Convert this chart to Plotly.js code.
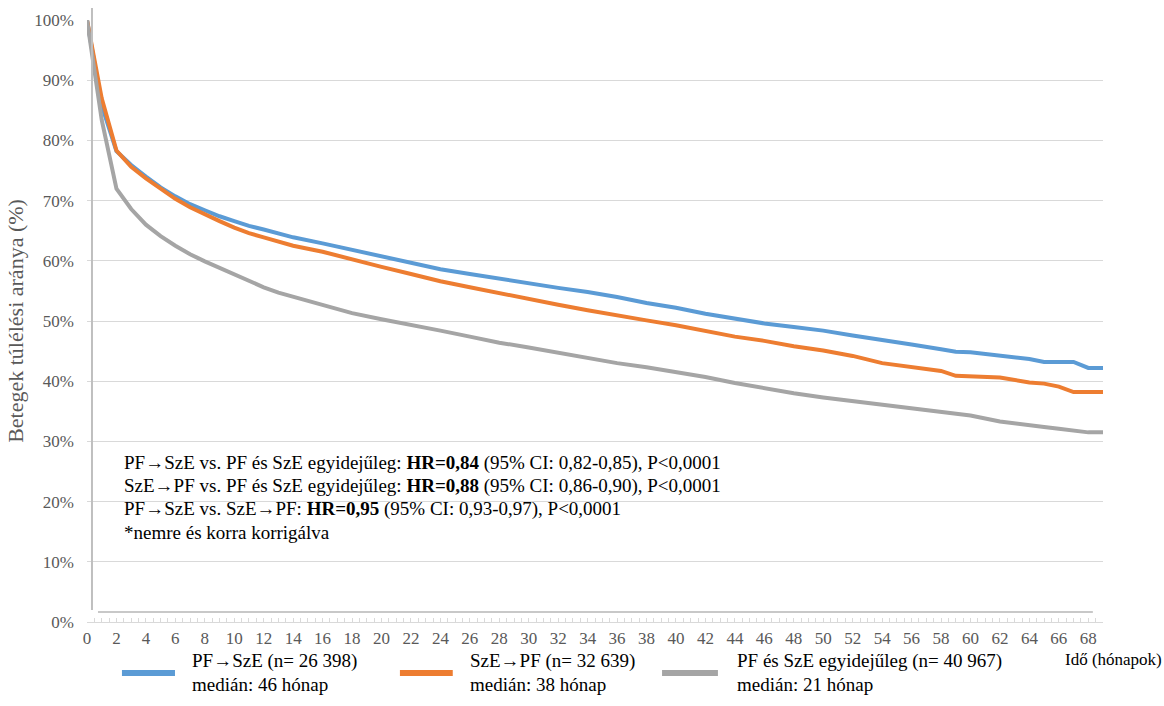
<!DOCTYPE html>
<html>
<head>
<meta charset="utf-8">
<script src="https://cdn.plot.ly/plotly-3.0.1.min.js"></script>
<style>
  html, body { margin: 0; padding: 0; background: #ffffff; }
  #chart { width: 1164px; height: 706px; }
</style>
</head>
<body>
<div id="chart"></div>
<script>
// Months (hónapok)
const months = [0,1,2,3,4,5,6,7,8,9,10,11,12,13,14,16,18,20,22,24,26,28,30,32,34,36,38,40,42,44,46,48,50,52,54,56,58,59,60,62,64,65,66,67,68,69];

// PF→SzE survival (%)
const pfSze = [100,85.8,78.2,75.9,74.0,72.2,70.7,69.4,68.4,67.4,66.6,65.8,65.2,64.6,63.9,62.9,61.8,60.7,59.6,58.6,57.8,57.0,56.3,55.5,54.8,54.0,53.0,52.2,51.2,50.4,49.6,49.0,48.4,47.6,46.9,46.1,45.3,44.9,44.8,44.3,43.7,43.2,43.2,43.2,42.2,42.2];

// SzE→PF survival (%)
const szePf = [100,87.0,78.3,75.6,73.7,71.9,70.3,68.9,67.7,66.6,65.5,64.6,63.9,63.2,62.5,61.5,60.2,59.0,57.8,56.6,55.6,54.6,53.7,52.7,51.8,50.9,50.1,49.3,48.3,47.4,46.7,45.8,45.1,44.2,43.0,42.3,41.7,40.9,40.8,40.6,39.8,39.6,39.1,38.2,38.2,38.2];

// PF és SzE egyidejűleg survival (%)
const egyidejuleg = [100,83.4,72.0,68.6,66.0,64.1,62.5,61.1,59.9,58.8,57.7,56.6,55.6,54.7,54.0,52.7,51.3,50.3,49.4,48.4,47.4,46.4,45.6,44.7,43.9,43.0,42.3,41.5,40.7,39.7,38.8,38.0,37.3,36.7,36.1,35.4,34.8,34.5,34.3,33.3,32.6,32.4,32.1,31.8,31.5,31.5];

const seriesNames = ["PF→SzE", "SzE→PF", "PF és SzE egyidejűleg"];
const seriesN = ["26 398", "32 639", "40 967"];
const seriesMedian = ["46", "38", "21"];
const seriesColors = ["#5B9BD5", "#ED7D31", "#A5A5A5"];
const seriesValues = [pfSze, szePf, egyidejuleg];

const hrLines = [
  "PF→SzE vs. PF és SzE egyidejűleg: <b>HR=0,84</b> (95% CI: 0,82-0,85), P<0,0001",
  "SzE→PF vs. PF és SzE egyidejűleg: <b>HR=0,88</b> (95% CI: 0,86-0,90), P<0,0001",
  "PF→SzE vs. SzE→PF: <b>HR=0,95</b> (95% CI: 0,93-0,97), P<0,0001",
  "*nemre és korra korrigálva"
];

const FONT = 'Liberation Serif, serif';

const traces = seriesValues.map((vals, i) => ({
  x: months,
  y: vals,
  type: 'scatter',
  mode: 'lines',
  name: seriesNames[i],
  line: { color: seriesColors[i], width: 4 },
  showlegend: false,
  hoverinfo: 'skip'
}));

const shapes = [
  // vertical axis line
  { type: 'line', xref: 'paper', yref: 'paper', x0: 0.0049, x1: 0.0049, y0: 0.02, y1: 1.02,
    line: { color: '#bfbfbf', width: 2 } },
  // horizontal line just above 0%
  { type: 'line', xref: 'paper', yref: 'paper', x0: 0.0108, x1: 0.990, y0: 0.0166, y1: 0.0166,
    line: { color: '#c8c8c8', width: 2 } }
];

const legendSwatchX = [[0.0344, 0.0866], [0.308, 0.360], [0.566, 0.621]];
const legendTextX = [0.1014, 0.375, 0.638];
legendSwatchX.forEach((sx, i) => {
  shapes.push({ type: 'line', xref: 'paper', yref: 'paper', x0: sx[0], x1: sx[1], y0: -0.0847, y1: -0.0847,
    line: { color: seriesColors[i], width: 6 } });
});

const annotations = [];
const hrY = [0.264, 0.226, 0.188, 0.1495];
hrLines.forEach((t, i) => {
  annotations.push({ xref: 'paper', yref: 'paper', x: 0.0344, y: hrY[i], xanchor: 'left', yanchor: 'middle',
    text: t, showarrow: false, font: { family: FONT, size: 19, color: '#000000' } });
});
legendTextX.forEach((lx, i) => {
  annotations.push({ xref: 'paper', yref: 'paper', x: lx, y: -0.0648, xanchor: 'left', yanchor: 'middle',
    text: seriesNames[i] + ' (n= ' + seriesN[i] + ')', showarrow: false, font: { family: FONT, size: 19, color: '#000000' } });
  annotations.push({ xref: 'paper', yref: 'paper', x: lx, y: -0.103, xanchor: 'left', yanchor: 'middle',
    text: 'medián: ' + seriesMedian[i] + ' hónap', showarrow: false, font: { family: FONT, size: 19, color: '#000000' } });
});
annotations.push({ xref: 'paper', yref: 'paper', x: 0.9606, y: -0.063, xanchor: 'left', yanchor: 'middle',
  text: 'Idő (hónapok)', showarrow: false, font: { family: FONT, size: 17, color: '#000000' } });

const layout = {
  width: 1164,
  height: 706,
  margin: { l: 87, r: 61, t: 20, b: 84 },
  paper_bgcolor: '#ffffff',
  plot_bgcolor: '#ffffff',
  font: { family: FONT, color: '#595959' },
  showlegend: false,
  xaxis: {
    range: [0, 69],
    tick0: 0,
    dtick: 2,
    showgrid: false,
    zeroline: false,
    showline: true,
    linecolor: '#d9d9d9',
    linewidth: 1,
    ticks: 'inside',
    ticklen: 4,
    tickcolor: '#d9d9d9',
    minor: { dtick: 0.5, ticks: 'inside', ticklen: 4, tickcolor: '#d9d9d9', showgrid: false },
    tickfont: { family: FONT, size: 17, color: '#595959' },
    ticklabelstandoff: 1
  },
  yaxis: {
    range: [0, 100],
    dtick: 10,
    ticksuffix: '%',
    showgrid: true,
    gridcolor: '#d9d9d9',
    gridwidth: 1,
    zeroline: false,
    showline: false,
    ticks: '',
    tickfont: { family: FONT, size: 17, color: '#595959' },
    ticklabelstandoff: 12,
    title: { text: 'Betegek túlélési aránya (%)', font: { family: FONT, size: 22, color: '#595959' }, standoff: 4 }
  },
  shapes: shapes,
  annotations: annotations
};

Plotly.newPlot('chart', traces, layout, { staticPlot: true, displayModeBar: false });
</script>
</body>
</html>
